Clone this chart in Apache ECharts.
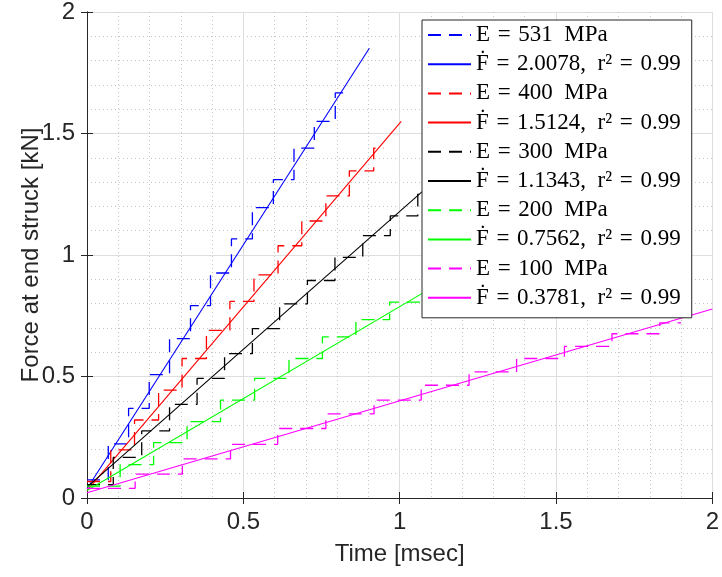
<!DOCTYPE html>
<html>
<head>
<meta charset="utf-8">
<script src="https://cdn.jsdelivr.net/npm/echarts@6/dist/echarts.min.js"></script>
<style>html,body{margin:0;padding:0;background:#fff}#c{width:722px;height:577px}</style>
</head>
<body>
<div id="c"></div>
<script>
// ---- data ----
const xTicks = [0, 0.5, 1, 1.5, 2];
const yTicks = [0, 0.5, 1, 1.5, 2];

const EN = '\u2002', T3 = '\u2004';
const names = ['E = 531 MPa', 'E = 400 MPa', 'E = 300 MPa', 'E = 200 MPa', 'E = 100 MPa'];
const fitNames = ['\u1E1E = 2.0078, r\u00B2 = 0.99', '\u1E1E = 1.5124, r\u00B2 = 0.99', '\u1E1E = 1.1343, r\u00B2 = 0.99', '\u1E1E = 0.7562, r\u00B2 = 0.99', '\u1E1E = 0.3781, r\u00B2 = 0.99'];
const colors = ['#0000ff', '#ff0000', '#000000', '#00ff00', '#ff00ff'];

// measured staircase data: jump times [msec] and force level after each jump [kN]
const t531 = [0, 0.068, 0.133, 0.199, 0.264, 0.331, 0.395, 0.462, 0.529, 0.596, 0.662, 0.727, 0.794, 0.82];
const F531 = [0.075, 0.223, 0.369, 0.508, 0.656, 0.792, 0.926, 1.066, 1.195, 1.31, 1.44, 1.55, 1.667, 1.667];
const t400 = [0, 0.076, 0.152, 0.229, 0.304, 0.382, 0.457, 0.534, 0.611, 0.687, 0.764, 0.839, 0.917, 0.95];
const F400 = [0.068, 0.198, 0.321, 0.444, 0.574, 0.69, 0.809, 0.918, 1.038, 1.14, 1.243, 1.346, 1.44, 1.44];
const t300 = [0, 0.084, 0.175, 0.264, 0.352, 0.44, 0.529, 0.616, 0.705, 0.793, 0.882, 0.97, 1.058, 1.146, 1.2];
const F300 = [0.055, 0.167, 0.276, 0.385, 0.492, 0.594, 0.697, 0.799, 0.895, 0.99, 1.08, 1.161, 1.25, 1.34, 1.34];
const t200 = [0, 0.106, 0.213, 0.32, 0.427, 0.536, 0.646, 0.753, 0.86, 0.968, 1.075, 1.18, 1.29];
const F200 = [0.049, 0.137, 0.228, 0.314, 0.403, 0.492, 0.574, 0.663, 0.734, 0.806, 0.88, 0.96, 0.96];
const t100 = [0, 0.154, 0.305, 0.459, 0.61, 0.764, 0.918, 1.069, 1.222, 1.374, 1.527, 1.679, 1.832, 1.9];
const F100 = [0.04, 0.098, 0.161, 0.221, 0.286, 0.346, 0.403, 0.464, 0.519, 0.574, 0.624, 0.676, 0.721, 0.721];

// linear fit lines: end points
const fitT = [[0, 0.903], [0, 1.005], [0, 1.2], [0, 1.4], [0, 2.0]];
const fitF = [[0.038, 1.851], [0.03, 1.55], [0.045, 1.406], [0.031, 1.09], [0.022, 0.778]];

const stepT = [t531, t400, t300, t200, t100];
const stepF = [F531, F400, F300, F200, F100];

// ---- chart ----
const zip = (a, b) => a.map((v, i) => [v, b[i]]);
// legend display: widen math-style spacing like the LaTeX legend
const pretty = s => s.replace(/ = /g, T3 + '=' + T3).replace(' MPa', EN + 'MPa').replace(', ', ',' + EN);
const series = [];
for (let k = 0; k < 5; k++) {
  series.push({
    name: names[k], type: 'line', step: 'end', symbol: 'none', animation: false,
    data: zip(stepT[k], stepF[k]),
    lineStyle: { color: colors[k], width: 1.3, type: [13, 8] },
    itemStyle: { color: colors[k] }, z: 3
  });
  series.push({
    name: fitNames[k], type: 'line', symbol: 'none', animation: false,
    data: zip(fitT[k], fitF[k]),
    lineStyle: { color: colors[k], width: 1.1, type: 'solid' },
    itemStyle: { color: colors[k] }, z: 3
  });
}

const axisCol = '#262626';
const labelFont = { fontFamily: 'Liberation Sans', fontSize: 24, color: '#262626' };
const titleFont = { fontFamily: 'Liberation Sans', fontSize: 24, color: '#262626' };
const chart = echarts.init(document.getElementById('c'), null, { renderer: 'canvas' });
chart.setOption({
  animation: false,
  backgroundColor: '#fff',
  grid: { left: 87, right: 9, top: 12, bottom: 79, containLabel: false },
  legend: {
    orient: 'vertical', left: 422, top: 20,
    data: series.map(s => s.name),
    formatter: pretty,
    backgroundColor: '#fff', borderColor: axisCol, borderWidth: 1, borderRadius: 0,
    padding: [3.5, 11, 8.5, 5], itemWidth: 43, itemHeight: 2, itemGap: 6.2,
    itemStyle: { opacity: 0 },
    textStyle: { fontFamily: 'Liberation Serif', fontSize: 23, color: '#000', lineHeight: 23 },
    selectedMode: false
  },
  xAxis: [{
    type: 'value', min: 0, max: 2, interval: 0.5, position: 'bottom',
    name: 'Time [msec]', nameLocation: 'middle', nameGap: 44, nameMoveOverlap: false,
    nameTextStyle: titleFont,
    axisLine: { show: true, lineStyle: { color: axisCol, width: 1 } },
    axisTick: { show: true, inside: true, length: 6, lineStyle: { color: axisCol } },
    axisLabel: Object.assign({ margin: 12, formatter: v => xTicks.includes(v) ? String(v) : '' }, labelFont),
    splitLine: { show: true, lineStyle: { color: '#dedede', width: 1 } },
    minorTick: { show: false, splitNumber: 5 },
    minorSplitLine: { show: true, lineStyle: { color: '#c4c4c4', width: 1, type: [1, 3] } }
  }, {
    type: 'value', min: 0, max: 2, interval: 0.5, position: 'top',
    axisLine: { show: true, lineStyle: { color: axisCol, width: 1 } },
    axisTick: { show: true, inside: true, length: 6, lineStyle: { color: axisCol } },
    axisLabel: { show: false }, splitLine: { show: false }
  }],
  yAxis: [{
    type: 'value', min: 0, max: 2, interval: 0.5, position: 'left',
    name: 'Force at end struck [kN]', nameLocation: 'middle', nameGap: 44, nameRotate: 90, nameMoveOverlap: false,
    nameTextStyle: titleFont,
    axisLine: { show: true, lineStyle: { color: axisCol, width: 1 } },
    axisTick: { show: true, inside: true, length: 6, lineStyle: { color: axisCol } },
    axisLabel: Object.assign({ margin: 12, formatter: v => yTicks.includes(v) ? String(v) : '' }, labelFont),
    splitLine: { show: true, lineStyle: { color: '#dedede', width: 1 } },
    minorTick: { show: false, splitNumber: 5 },
    minorSplitLine: { show: true, lineStyle: { color: '#c4c4c4', width: 1, type: [1, 3] } }
  }, {
    type: 'value', min: 0, max: 2, interval: 0.5, position: 'right',
    axisLine: { show: true, lineStyle: { color: axisCol, width: 1 } },
    axisTick: { show: true, inside: true, length: 6, lineStyle: { color: axisCol } },
    axisLabel: { show: false }, splitLine: { show: false }
  }],
  series: series
});
</script>
</body>
</html>
